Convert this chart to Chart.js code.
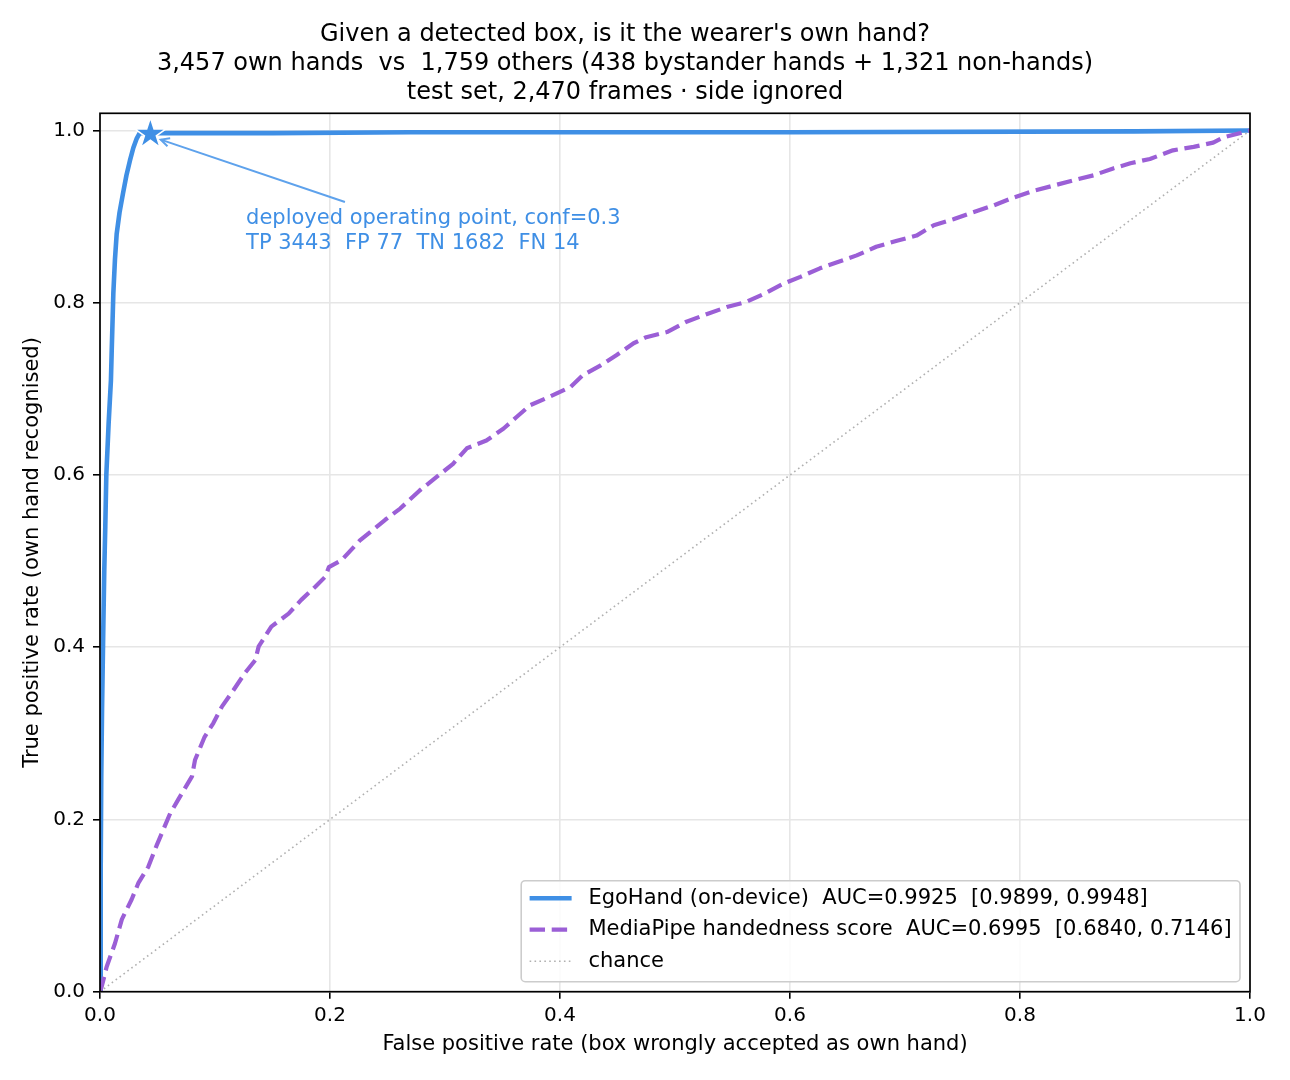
<!DOCTYPE html>
<html>
<head>
<meta charset="utf-8">
<script src="https://cdn.jsdelivr.net/npm/chart.js@4.4.1/dist/chart.umd.min.js"></script>
<style>
  html, body { margin: 0; background: #fff; }
  canvas { display: block; }
</style>
</head>
<body>
<canvas id="roc" width="1290" height="1080"></canvas>
<script>
const titleLines = [
  "Given a detected box, is it the wearer's own hand?",
  '3,457 own hands  vs  1,759 others (438 bystander hands + 1,321 non-hands)',
  'test set, 2,470 frames \u00b7 side ignored',
];
const xTitle = 'False positive rate (box wrongly accepted as own hand)';
const yTitle = 'True positive rate (own hand recognised)';
const xTicks = [0, 0.2, 0.4, 0.6, 0.8, 1.0];
const yTicks = [0, 0.2, 0.4, 0.6, 0.8, 1.0];

// EgoHand ROC
const egoFpr = [0, 0.0006, 0.0011, 0.0018, 0.0029, 0.0037, 0.0046, 0.0055, 0.0075, 0.0095, 0.0101, 0.0116,
  0.0130, 0.0145, 0.0170, 0.0200, 0.0230, 0.0260, 0.0290, 0.0320, 0.0345, 0.0438, 0.1500, 0.2700, 0.6000, 0.9000, 1.0];
const egoTpr = [0, 0.140, 0.250, 0.330, 0.425, 0.488, 0.540, 0.600, 0.660, 0.710, 0.740, 0.811,
  0.850, 0.880, 0.905, 0.927, 0.948, 0.965, 0.980, 0.991, 0.997, 0.997, 0.997, 0.998, 0.998, 0.999, 1.0];

// MediaPipe handedness ROC
const mpFpr = [0, 0.0015, 0.0058, 0.013, 0.019, 0.0275, 0.0333, 0.042, 0.049, 0.055, 0.061, 0.068, 0.080, 0.0826,
  0.091, 0.0986, 0.106, 0.116, 0.126, 0.135, 0.138, 0.149, 0.164, 0.175, 0.187, 0.196, 0.199, 0.210, 0.226, 0.248,
  0.261, 0.278, 0.293, 0.307, 0.319, 0.336, 0.351, 0.362, 0.374, 0.391, 0.409, 0.420, 0.435, 0.449, 0.464, 0.475,
  0.493, 0.510, 0.528, 0.545, 0.562, 0.577, 0.594, 0.609, 0.626, 0.641, 0.658, 0.675, 0.693, 0.710, 0.725, 0.742,
  0.759, 0.777, 0.794, 0.812, 0.829, 0.846, 0.864, 0.881, 0.896, 0.913, 0.933, 0.951, 0.968, 0.977, 1.0];
const mpTpr = [0, 0.006, 0.029, 0.056, 0.084, 0.107, 0.126, 0.145, 0.169, 0.188, 0.207, 0.223, 0.250, 0.269,
  0.296, 0.312, 0.331, 0.350, 0.370, 0.385, 0.401, 0.424, 0.439, 0.455, 0.470, 0.482, 0.493, 0.501, 0.524, 0.548,
  0.561, 0.582, 0.598, 0.613, 0.631, 0.640, 0.654, 0.667, 0.681, 0.691, 0.702, 0.716, 0.727, 0.739, 0.753, 0.760,
  0.766, 0.778, 0.787, 0.795, 0.801, 0.810, 0.822, 0.830, 0.840, 0.847, 0.855, 0.865, 0.872, 0.878, 0.890, 0.897,
  0.905, 0.913, 0.922, 0.930, 0.936, 0.942, 0.948, 0.956, 0.962, 0.967, 0.977, 0.981, 0.986, 0.992, 1.0];

const chanceFpr = [0, 1];
const chanceTpr = [0, 1];

// deployed operating point (FP 77 / 1759, TP 3443 / 3457)
const opFpr = 0.0438;
const opTpr = 0.9960;
const annText = ['deployed operating point, conf=0.3', 'TP 3443  FP 77  TN 1682  FN 14'];
const annTextAt = [0.127, 0.898];
const annArrowTail = [0.213, 0.917];

const seriesLabels = [
  'EgoHand (on-device)  AUC=0.9925  [0.9899, 0.9948]',
  'MediaPipe handedness score  AUC=0.6995  [0.6840, 0.7146]',
  'chance',
];

const BLUE = '#3f8fe5';
const PURPLE = '#9b5fd6';
const GREY = '#b0b0b0';
const FONT = "'DejaVu Sans', sans-serif";
const LABEL_PX = 21;

const pts = (xs, ys) => xs.map((x, i) => ({ x, y: ys[i] }));

const rocExtras = {
  id: 'rocExtras',
  afterDatasetsDraw(chart) {
    const { ctx, chartArea: a, scales: { x, y } } = chart;
    ctx.save();

    // spines
    ctx.strokeStyle = '#000';
    ctx.lineWidth = 1.7;
    ctx.strokeRect(a.left, a.top, a.right - a.left, a.bottom - a.top);

    // operating point star
    const sx = x.getPixelForValue(opFpr), sy = y.getPixelForValue(opTpr);
    const R = 16.5, r = R * 0.382;
    ctx.beginPath();
    for (let i = 0; i < 10; i++) {
      const ang = -Math.PI / 2 + i * Math.PI / 5;
      const rad = i % 2 ? r : R;
      const px = sx + rad * Math.cos(ang), py = sy + rad * Math.sin(ang);
      i ? ctx.lineTo(px, py) : ctx.moveTo(px, py);
    }
    ctx.closePath();
    ctx.fillStyle = BLUE;
    ctx.fill();
    ctx.strokeStyle = '#fff';
    ctx.lineWidth = 1.6;
    ctx.stroke();

    // annotation arrow
    const tx = x.getPixelForValue(annArrowTail[0]), ty = y.getPixelForValue(annArrowTail[1]);
    const dx = sx - tx, dy = sy - ty, len = Math.hypot(dx, dy);
    const ux = dx / len, uy = dy / len;
    const hx = sx - ux * 11, hy = sy - uy * 11 + 2;
    ctx.strokeStyle = '#5ea2ec';
    ctx.lineWidth = 2;
    ctx.beginPath();
    ctx.moveTo(tx, ty);
    ctx.lineTo(hx, hy);
    ctx.stroke();
    const hl = 9.5, hw = 0.46;
    const ang = Math.atan2(hy - ty, hx - tx);
    ctx.beginPath();
    ctx.moveTo(hx - hl * Math.cos(ang - hw), hy - hl * Math.sin(ang - hw));
    ctx.lineTo(hx, hy);
    ctx.lineTo(hx - hl * Math.cos(ang + hw), hy - hl * Math.sin(ang + hw));
    ctx.stroke();

    // annotation text
    ctx.fillStyle = BLUE;
    ctx.font = LABEL_PX + 'px ' + FONT;
    ctx.textAlign = 'left';
    ctx.textBaseline = 'middle';
    const ax = x.getPixelForValue(annTextAt[0]), ay = y.getPixelForValue(annTextAt[1]);
    annText.forEach((t, i) => ctx.fillText(t, ax, ay + i * 25.2));

    // legend box (lower right, inside axes)
    const em = LABEL_PX;
    const textW = Math.max(...seriesLabels.map(t => ctx.measureText(t).width));
    const pad = 0.4 * em, handle = 2 * em, gap = 0.8 * em;
    const boxR = a.right - 10, boxB = a.bottom - 10;
    const boxW = pad + handle + gap + textW + pad, boxH = 101;
    const boxL = boxR - boxW, boxT = boxB - boxH;
    ctx.beginPath();
    ctx.roundRect(boxL, boxT, boxW, boxH, 4);
    ctx.fillStyle = 'rgba(255,255,255,0.85)';
    ctx.fill();
    ctx.strokeStyle = '#cccccc';
    ctx.lineWidth = 1.6;
    ctx.stroke();

    const styles = chart.data.datasets;
    seriesLabels.forEach((label, i) => {
      const ds = styles[i];
      const cy = boxT + 17.5 + i * 31.5;
      ctx.beginPath();
      ctx.setLineDash(ds.borderDash || []);
      ctx.strokeStyle = ds.borderColor;
      ctx.lineWidth = ds.borderWidth;
      ctx.moveTo(boxL + pad, cy);
      ctx.lineTo(boxL + pad + handle, cy);
      ctx.stroke();
      ctx.setLineDash([]);
      ctx.fillStyle = '#000';
      ctx.fillText(label, boxL + pad + handle + gap, cy);
    });
    ctx.restore();
  },
};

Chart.defaults.font.family = FONT;
Chart.defaults.color = '#000';

new Chart(document.getElementById('roc'), {
  type: 'line',
  data: {
    datasets: [
      {
        label: seriesLabels[0],
        data: pts(egoFpr, egoTpr),
        borderColor: BLUE,
        borderWidth: 4.6,
        order: 3,
      },
      {
        label: seriesLabels[1],
        data: pts(mpFpr, mpTpr),
        borderColor: PURPLE,
        borderWidth: 4.2,
        borderDash: [15.4, 6.7],
        order: 2,
      },
      {
        label: seriesLabels[2],
        data: pts(chanceFpr, chanceTpr),
        borderColor: GREY,
        borderWidth: 1.6,
        borderDash: [1.6, 3.3],
        order: 1,
      },
    ],
  },
  options: {
    responsive: false,
    animation: false,
    devicePixelRatio: 1,
    layout: { padding: { left: 0, right: 40, top: 0, bottom: 0 } },
    elements: { point: { radius: 0 }, line: { tension: 0, fill: false, borderJoinStyle: 'round' } },
    plugins: {
      legend: { display: false },
      tooltip: { enabled: false },
      title: {
        display: true,
        text: titleLines,
        font: { size: 24, weight: 'normal', lineHeight: 1.2 },
        color: '#000',
        padding: { top: 20.3, bottom: 6.6 },
      },
    },
    scales: {
      x: {
        type: 'linear',
        min: 0,
        max: 1,
        afterBuildTicks: s => { s.ticks = xTicks.map(v => ({ value: v })); },
        afterFit: s => { s.height = 88.3; },
        ticks: { font: { size: 20 }, padding: 5, maxRotation: 0, callback: v => v.toFixed(1) },
        grid: { color: '#e6e6e6', lineWidth: 1.6, tickColor: '#000', tickLength: 7, tickWidth: 1.6 },
        border: { display: false },
        title: { display: true, text: xTitle, font: { size: LABEL_PX }, padding: { top: 0, bottom: 22.4 } },
      },
      y: {
        type: 'linear',
        min: 0,
        max: 1.02,
        afterBuildTicks: s => { s.ticks = yTicks.map(v => ({ value: v })); },
        afterFit: s => { s.width = 100; },
        ticks: { font: { size: 20 }, padding: 8, callback: v => v.toFixed(1) },
        grid: { color: '#e6e6e6', lineWidth: 1.6, tickColor: '#000', tickLength: 7, tickWidth: 1.6 },
        border: { display: false },
        title: { display: true, text: yTitle, font: { size: LABEL_PX }, padding: { top: 20.4, bottom: 0 } },
      },
    },
  },
  plugins: [rocExtras],
});
</script>
</body>
</html>
